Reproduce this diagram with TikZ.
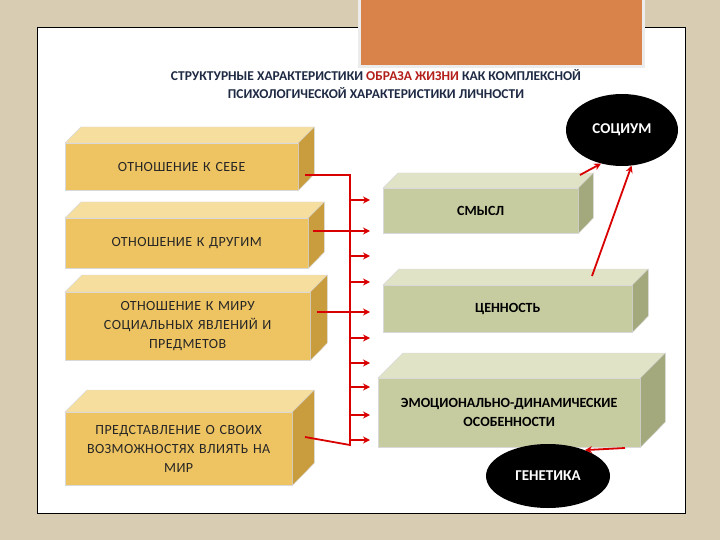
\documentclass[tikz,border=0pt]{standalone}
\usepackage{fontspec}
\setmainfont{Carlito}
\usetikzlibrary{arrows.meta,shapes.geometric}
\definecolor{bg}{HTML}{D8CCB2}
\definecolor{orng}{HTML}{D9824A}
\definecolor{goldF}{HTML}{EEC462}
\definecolor{goldT}{HTML}{F6DE9E}
\definecolor{goldS}{HTML}{C99C3E}
\definecolor{grnF}{HTML}{C6CBA0}
\definecolor{grnT}{HTML}{E0E3C6}
\definecolor{grnS}{HTML}{A3A97C}
\definecolor{navy}{HTML}{1F2A44}
\definecolor{dred}{HTML}{B3201C}
\tikzset{
  face/.style={draw=white!70!gray, line width=0.4pt},
  lbox/.style={face, anchor=north west, align=center, font=\fontsize{14}{19}\selectfont\addfontfeature{LetterSpace=3}, text=black!85},
  rbox/.style={face, anchor=north west, align=center, font=\fontsize{14}{19}\selectfont\bfseries, text=black},
  redl/.style={red!85!black, line width=1.8pt},
  reda/.style={redl, -{Stealth[length=7pt,width=7pt]}},
  blob/.style={ellipse, fill=black, text=white, font=\fontsize{15}{17}\selectfont\bfseries},
}
% name, x, y, w, h, d, prefix, style, text
\newcommand{\cube}[9]{%
  \node[#8, fill=#7F, minimum width=#4pt, minimum height=#5pt, text width=#4pt-8pt, inner sep=0pt] (#1) at (#2,#3) {#9};
  \fill[#7T, face] (#1.north west) -- ++(#6,-#6) -- ++(#4,0) -- (#1.north east) -- cycle;
  \fill[#7S, face] (#1.north east) -- ++(#6,-#6) -- ++(0,#5) -- (#1.south east) -- cycle;
}
\begin{document}
\begin{tikzpicture}[x=1pt,y=-1pt]
\useasboundingbox (0,0) rectangle (720,540);
\fill[bg] (0,0) rectangle (720,540);
\node[draw=black, fill=white, line width=0.8pt, minimum width=648pt, minimum height=486pt, anchor=north west, inner sep=0pt] (panel) at (37,27) {};
\node[fill=orng, draw=white!85!gray, line width=3pt, minimum width=284pt, minimum height=68pt, anchor=north west, inner sep=0pt] (banner) at (358,-3) {};
\node[align=center, font=\fontsize{13.5}{18}\selectfont\bfseries, text=navy] (title) at (376,84)
  {СТРУКТУРНЫЕ ХАРАКТЕРИСТИКИ \textcolor{dred}{ОБРАЗА ЖИЗНИ} КАК КОМПЛЕКСНОЙ\\ПСИХОЛОГИЧЕСКОЙ ХАРАКТЕРИСТИКИ ЛИЧНОСТИ};

\cube{b1}{65}{143}{233}{47}{16}{gold}{lbox}{ОТНОШЕНИЕ К СЕБЕ}
\cube{b2}{65}{218}{243}{50}{16}{gold}{lbox}{ОТНОШЕНИЕ К ДРУГИМ}
\cube{b3}{65}{292}{245}{68}{17}{gold}{lbox}{ОТНОШЕНИЕ К МИРУ\\СОЦИАЛЬНЫХ ЯВЛЕНИЙ И\\ПРЕДМЕТОВ}
\cube{b4}{65}{412}{227}{73}{22}{gold}{lbox}{ПРЕДСТАВЛЕНИЕ О СВОИХ\\ВОЗМОЖНОСТЯХ ВЛИЯТЬ НА\\МИР}
\cube{r1}{383}{188}{195}{45}{15}{grn}{rbox}{СМЫСЛ}
\cube{r2}{383}{285}{249}{47}{16}{grn}{rbox}{ЦЕННОСТЬ}
\cube{r3}{378}{378}{262}{69}{25}{grn}{rbox}{ЭМОЦИОНАЛЬНО-ДИНАМИЧЕСКИЕ\\ОСОБЕННОСТИ}

\node[blob, minimum width=112pt, minimum height=72pt] (soc) at (622,130) {СОЦИУМ};
\node[blob, minimum width=124pt, minimum height=64pt] (gen) at (548,476) {ГЕНЕТИКА};

\coordinate (vt) at (350,175);
\coordinate (vb) at (350,445);
\draw[redl] (305,175) -- (vt) -- (vb) -- (305,437);
\draw[reda] (313,231) -- (370,231);
\draw[reda] (317,312) -- (370,312);
\foreach \yy in {200,256,282,338,363,387,415,440}
  \draw[reda] (350,\yy) -- (370,\yy);

\draw[reda] (580,175) -- (soc.238);
\draw[reda] (592,276) -- (soc.285);
\draw[reda] (625,448) -- (gen.35);
\end{tikzpicture}
\end{document}
